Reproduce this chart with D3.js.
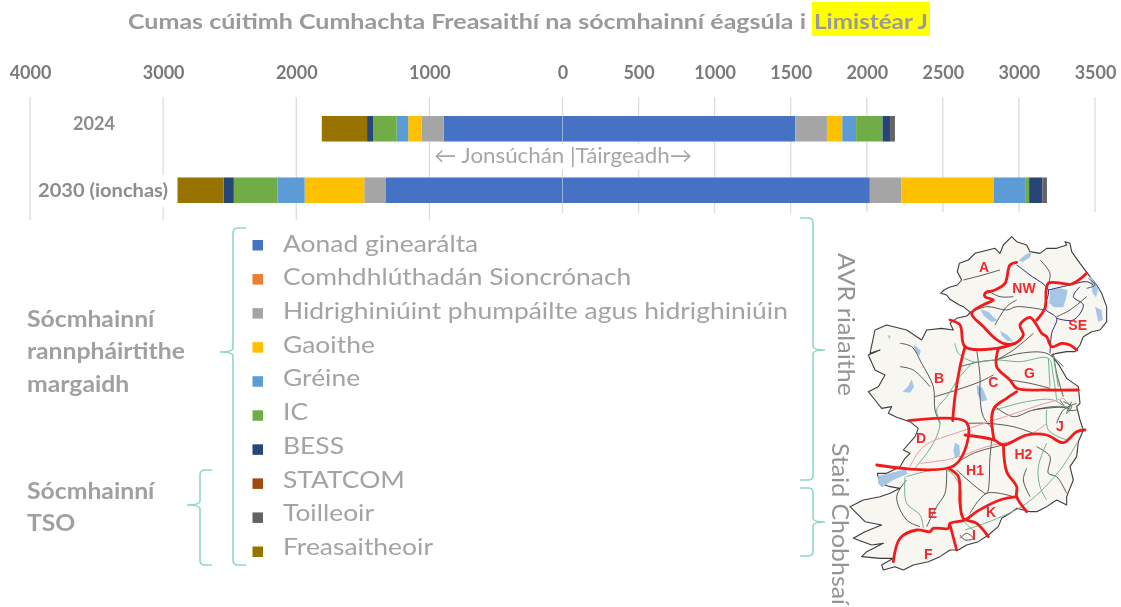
<!DOCTYPE html>
<html><head><meta charset="utf-8">
<script src="https://cdn.jsdelivr.net/npm/d3@7"></script>
<style>html,body{margin:0;padding:0;background:#fff}svg{display:block}text{font-family:Lato,"Open Sans",sans-serif}</style>
</head><body><svg id="c" width="1121" height="607"></svg>
<script>
const titleMain = "Cumas cúitimh Cumhachta Freasaithí na sócmhainní éagsúla i";
const titleHighlight = "Limistéar J";
const years = ["2024", "2030 (ionchas)"];
const seriesNames = ["Aonad ginearálta","Comhdhlúthadán Sioncrónach","Hidrighiniúint phumpáilte agus hidrighiniúin","Gaoithe","Gréine","IC","BESS","STATCOM","Toilleoir","Freasaitheoir"];
const seriesColors = ["#4472c4","#ed7d31","#a5a5a5","#ffc000","#5b9bd5","#70ad47","#264478","#9e480e","#636363","#997300"];
// values per series: [2024, 2030]
const productionValues = [[1530,2020],[0,0],[208,206],[101,608],[91,207],[174,26],[49,87],[0,0],[32,30],[0,0]];
const absorptionValues = [[893,1326],[0,0],[164,163],[102,448],[86,204],[177,328],[46,77],[0,0],[0,0],[340,346]];
const leftTicks = [4000,3000,2000,1000];
const rightTicks = [0,500,1000,1500,2000,2500,3000,3500];
const groupMarket = ["Sócmhainní","rannpháirtithe","margaidh"];
const groupTso = ["Sócmhainní","TSO"];

// map illustration, in map-image units
const coast = [[450,340],[470,325],[500,318],[512,308],[490,290],[478,285],[450,268],[440,255],[422,250],[432,240],[448,232],[472,225],[485,210],[472,185],[478,160],[505,150],[525,130],[555,122],[585,115],[600,130],[610,105],[635,80],[650,95],[680,105],[690,125],[720,130],[740,115],[770,115],[800,105],[795,95],[810,100],[815,125],[840,160],[870,200],[890,225],[905,250],[920,290],[920,335],[900,360],[875,365],[850,380],[840,405],[825,425],[800,425],[770,430],[755,435],[780,470],[800,505],[835,530],[840,580],[830,590],[840,630],[850,660],[835,695],[830,740],[810,770],[820,810],[800,860],[800,885],[770,870],[740,890],[710,905],[690,905],[650,895],[630,910],[605,925],[595,950],[565,975],[535,995],[500,1005],[475,1020],[450,1020],[420,1040],[385,1055],[340,1065],[310,1080],[285,1070],[250,1080],[245,1065],[280,1045],[240,1045],[185,1040],[200,1025],[250,1000],[215,1005],[160,985],[195,965],[245,945],[195,935],[150,890],[190,870],[240,860],[270,850],[300,835],[270,830],[240,820],[232,790],[260,790],[300,770],[315,745],[330,730],[310,720],[345,680],[355,655],[330,635],[290,622],[265,610],[275,590],[245,595],[225,570],[205,545],[235,530],[255,495],[225,480],[205,435],[240,420],[210,430],[225,360],[260,345],[320,360],[365,390],[380,360],[425,355],[460,360]];
const lakes = [[[750,238],[780,235],[803,240],[798,265],[790,292],[762,292],[748,280]],[[655,152],[675,135],[695,125],[690,142],[670,155]],[[870,195],[895,235],[888,262],[878,250]],[[885,290],[905,300],[908,330],[895,335]],[[540,298],[565,305],[592,332],[575,336],[552,318]],[[600,362],[622,375],[640,395],[622,392],[606,378]],[[530,525],[548,535],[562,570],[545,575],[532,552]],[[335,508],[342,530],[330,548],[308,545],[325,528]],[[342,402],[362,422],[358,438],[345,425]],[[235,798],[285,785],[318,778],[322,792],[280,810],[245,832],[234,820]],[[465,698],[478,705],[480,735],[465,745],[460,722]],[[262,375],[272,378],[268,388]]];
const networkGrey = [[[300,400],[335,410],[365,460],[400,530],[405,600],[420,640]],[[405,560],[470,540],[540,515],[580,495]],[[480,470],[540,455],[590,450]],[[530,420],[540,500],[540,560],[550,620],[582,660]],[[590,450],[660,430],[740,430],[790,470]],[[630,510],[690,520],[750,535]],[[585,590],[640,620],[700,600],[800,590]],[[500,640],[560,640],[640,650],[700,670]],[[445,775],[520,730],[610,705]],[[440,780],[435,850],[410,890],[380,950]],[[470,780],[540,840],[560,850],[570,740],[575,690]],[[320,810],[290,860],[320,930],[360,950]],[[510,910],[560,850],[640,860]],[[710,710],[750,740],[745,790],[770,800],[800,850]],[[680,775],[670,810],[690,860]],[[505,310],[560,290],[620,300],[650,290],[735,300]],[[585,345],[620,290],[650,270]],[[560,240],[600,260],[640,260]],[[490,210],[530,200],[600,180]],[[720,150],[750,190],[745,222]],[[770,320],[810,300],[860,260]],[[590,450],[640,420],[700,370]],[[390,530],[340,480],[300,470]],[[760,430],[770,490],[790,560]],[[780,570],[805,600],[830,600]],[[700,600],[760,590],[810,595]],[[830,580],[790,600],[770,640]],[[480,985],[500,970],[520,985],[495,990],[480,975]],[[790,575],[815,590],[800,610],[815,575]],[[865,205],[885,225],[860,235]]];
const networkGreen = [[[465,400],[475,430],[520,455],[590,450],[660,455],[745,445],[760,500],[770,570]],[[520,455],[480,500],[440,560],[410,600],[420,640],[400,700],[340,780]],[[745,445],[750,530]],[[760,440],[775,530]],[[585,600],[680,575],[760,570],[805,600]],[[740,600],[745,660],[800,690]],[[315,800],[320,880],[360,915],[370,955]],[[320,800],[440,780],[480,830],[490,930],[520,960]],[[495,960],[580,930],[680,880],[780,780],[830,700]],[[740,700],[715,770],[720,830],[740,870]],[[790,565],[810,590],[800,610]]];
const networkPink = [[[330,770],[370,710],[480,665],[600,625],[720,585],[790,565]],[[360,760],[460,745],[560,710],[680,680],[740,640]]];
const networkNavy = [[[650,165],[690,195],[745,240],[735,295],[770,325],[755,370],[750,430]],[[745,240],[810,225],[860,215],[880,225]],[[770,325],[820,330],[850,285],[820,260],[840,230]]];
const regionLines = [[[650,157],[630,165],[615,220],[585,240],[555,250],[555,260],[580,270],[555,282],[515,310],[550,350],[585,385],[610,400],[645,400],[670,375],[660,345],[690,322],[710,345],[725,370],[740,380],[755,410],[785,400],[810,405],[830,420]],[[860,190],[815,222],[745,220],[735,295],[710,330]],[[450,330],[480,345],[495,410],[590,415],[645,400]],[[495,410],[480,470],[465,560],[458,632]],[[325,632],[500,638],[465,765],[230,765]],[[595,415],[590,470],[630,510],[650,535],[740,540],[835,540]],[[650,545],[620,565],[585,590],[575,620],[582,690]],[[495,675],[582,690],[610,705],[680,675],[740,675],[790,698],[830,665],[855,660]],[[610,705],[620,785],[650,830],[650,860],[680,905]],[[650,860],[600,870],[530,905],[495,930],[450,940],[445,955],[400,955],[390,965],[350,960],[300,985],[280,1055]],[[445,775],[475,800],[480,880],[490,925],[530,940],[565,980]],[[450,945],[470,1020]]];
const regionNames = ["A","NW","SE","B","C","G","J","D","H1","H2","E","K","I","F"];
const regionX = [552,672,833,417,580,688,780,363,525,670,397,573,522,385];
const regionY = [170,233,345,503,515,488,648,685,780,733,910,907,975,1033];

const svg = d3.select("#c");
svg.append("defs").append("filter").attr("id","soft").attr("x","-5%").attr("y","-5%").attr("width","110%").attr("height","110%")
  .append("feGaussianBlur").attr("stdDeviation",0.45);
const root = svg.append("g").attr("filter","url(#soft)");
root.append("rect").attr("width",1121).attr("height",607).attr("fill","#fff");

// scales: two independent value axes meeting at zero
const xLeft = d3.scaleLinear().domain([0,4000]).range([562.5,30]);
const xRight = d3.scaleLinear().domain([0,3500]).range([562.5,1095]);
const y = d3.scaleBand().domain(years).range([116,203]).paddingInner(0.585).paddingOuter(0);

// title
root.append("text").attr("x",128).attr("y",28.5).attr("font-size",21.5).attr("font-weight",700).attr("fill","#9a9a9a")
  .attr("textLength",678).attr("lengthAdjust","spacingAndGlyphs").text(titleMain);
root.append("rect").attr("x",812).attr("y",2).attr("width",118).attr("height",34).attr("fill","#ffff00");
root.append("text").attr("x",814).attr("y",28.5).attr("font-size",21.5).attr("font-weight",700).attr("fill","#9a9a9a")
  .attr("textLength",114).attr("lengthAdjust","spacingAndGlyphs").text(titleHighlight);

// gridlines
root.append("g").selectAll("line").data(leftTicks).join("line")
  .attr("x1",d=>xLeft(d)).attr("x2",d=>xLeft(d)).attr("y1",97).attr("y2",220).attr("stroke","#dcdcdc").attr("stroke-width",1.3);
root.append("g").selectAll("line").data(rightTicks).join("line")
  .attr("x1",d=>xRight(d)).attr("x2",d=>xRight(d)).attr("y1",97).attr("y2",213).attr("stroke","#dcdcdc").attr("stroke-width",1.3);

// axes
function styleAxis(g){ g.select(".domain").remove(); g.selectAll("line").remove();
  g.selectAll("text").attr("font-size",18).attr("font-weight",700).attr("fill","#7a7a7a").style("font-family","Lato,sans-serif"); }
root.append("g").attr("transform","translate(0,79)").call(d3.axisTop(xLeft).tickValues(leftTicks).tickFormat(d3.format("d")).tickSize(0).tickPadding(0)).call(styleAxis);
root.append("g").attr("transform","translate(0,79)").call(d3.axisTop(xRight).tickValues(rightTicks).tickFormat(d3.format("d")).tickSize(0).tickPadding(0)).call(styleAxis);

// category labels
root.append("rect").attr("x",36).attr("y",175).attr("width",135).attr("height",32).attr("fill","#fff");
root.append("g").selectAll("text").data(years).join("text")
  .attr("x",(d,i)=>[73,38][i]).attr("y",(d,i)=>y(d)+y.bandwidth()/2+[1.5,7][i])
  .attr("font-size",18).attr("font-weight",700).attr("fill","#8c8c8c")
  .attr("textLength",(d,i)=>[42,130][i]).attr("lengthAdjust","spacingAndGlyphs").text(d=>d);

// stacked bars
function rows(values){ return years.map((yr,i)=>{ const r={year:yr}; seriesNames.forEach((s,k)=>r[s]=values[k][i]); return r; }); }
const stack = d3.stack().keys(seriesNames);
function drawSide(values,scale){
  const g = root.append("g");
  g.selectAll("g").data(stack(rows(values))).join("g").attr("fill",(d,i)=>seriesColors[i])
    .selectAll("rect").data(d=>d).join("rect")
    .attr("x",d=>Math.min(scale(d[0]),scale(d[1])))
    .attr("width",d=>Math.abs(scale(d[1])-scale(d[0])))
    .attr("y",d=>y(d.data.year)).attr("height",y.bandwidth());
}
drawSide(productionValues,xRight);
drawSide(absorptionValues,xLeft);
root.append("line").attr("x1",xRight(0)).attr("x2",xRight(0)).attr("y1",97).attr("y2",213).attr("stroke","#dcdcdc").attr("stroke-opacity",0.45).attr("stroke-width",1);

// direction annotation
root.append("rect").attr("x",432).attr("y",144).attr("width",262).attr("height",26).attr("fill","#fff");
root.append("text").attr("x",434).attr("y",163).attr("font-size",21).attr("fill","#a6a6a6")
  .attr("textLength",258).attr("lengthAdjust","spacingAndGlyphs").text("← Jonsúchán |Táirgeadh→");

// legend: swatches and labels sit on slightly different spacings
const legendY = d3.scalePoint().domain(seriesNames).range([245.5,552]);
const legendTextY = d3.scalePoint().domain(seriesNames).range([251.5,555]);
const legend = root.append("g").selectAll("g").data(seriesNames).join("g");
legend.append("rect").attr("x",252.5).attr("y",d=>legendY(d)-5.5).attr("width",10.5).attr("height",10.5).attr("fill",(d,i)=>seriesColors[i]);
legend.append("text").attr("transform",d=>`translate(283,${legendTextY(d)}) scale(1.125,1)`).attr("font-size",23.5).attr("fill","#a3a3a3").text(d=>d);

// group labels
root.append("g").selectAll("text").data(groupMarket).join("text").attr("transform",(d,i)=>`translate(27,${327+32.3*i}) scale(1.1,1)`)
  .attr("font-size",22.5).attr("font-weight",700).attr("fill","#a0a0a0").text(d=>d);
root.append("g").selectAll("text").data(groupTso).join("text").attr("transform",(d,i)=>`translate(27,${499+32.3*i}) scale(1.1,1)`)
  .attr("font-size",22.5).attr("font-weight",700).attr("fill","#a0a0a0").text(d=>d);

// curly brackets
const teal = "#8ed8ca";
function bracket(xv,top,bot,mid,dir,len,nib){
  const c=dir*5;
  const p=`M${xv+dir*len},${top} L${xv+c},${top} Q${xv},${top} ${xv},${top+5} L${xv},${mid-4} Q${xv},${mid} ${xv-dir*nib},${mid} Q${xv},${mid} ${xv},${mid+4} L${xv},${bot-5} Q${xv},${bot} ${xv+c},${bot} L${xv+dir*len},${bot}`;
  root.append("path").attr("d",p).attr("fill","none").attr("stroke",teal).attr("stroke-width",1.6);
}
bracket(233,228,565,352,1,13,13);
bracket(200,470,565,505,1,12,13);
bracket(813,218,480,350,-1,13,12);
bracket(813,488,556,522,-1,13,12);

// map
root.append("rect").attr("x",842).attr("y",212).attr("width",279).attr("height",395).attr("fill","#fff");
const mx = d3.scaleLinear().domain([0,960]).range([800,1120]);
const my = d3.scaleLinear().domain([0,1191]).range([210,607]);
const mapLine = d3.line().x(d=>mx(d[0])).y(d=>my(d[1]));
const curved = d3.line().x(d=>mx(d[0])).y(d=>my(d[1])).curve(d3.curveCatmullRom.alpha(0.5));
root.append("path").attr("d",mapLine(coast)+"Z").attr("fill","#f8f6f1").attr("stroke","#3c3c3c").attr("stroke-width",1.1).attr("stroke-linejoin","round");
root.append("g").selectAll("path").data(lakes).join("path").attr("d",d=>mapLine(d)+"Z").attr("fill","#a5c6e4");
function net(data,color,w,op){ root.append("g").selectAll("path").data(data).join("path").attr("d",curved).attr("fill","none").attr("stroke",color).attr("stroke-width",w).attr("stroke-opacity",op); }
net(networkGrey,"#4f4f4f",1,0.95);
net(networkGreen,"#6db48c",1,1);
net(networkPink,"#ef9a9a",1,1);
net(networkNavy,"#2e2f7a",1,1);
root.append("g").selectAll("path").data(regionLines).join("path").attr("d",curved).attr("fill","none").attr("stroke","#f01a1f").attr("stroke-width",2.8).attr("stroke-linejoin","round").attr("stroke-linecap","round");
root.append("g").selectAll("text").data(regionNames).join("text").attr("x",(d,i)=>mx(regionX[i])).attr("y",(d,i)=>my(regionY[i])+5)
  .attr("text-anchor","middle").attr("font-size",14).attr("font-weight",700).attr("fill","#ee2a2e").style("font-family","'Liberation Sans',sans-serif").text(d=>d);

// rotated side labels
root.append("text").attr("transform","translate(838,253) rotate(90)").attr("font-size",24).attr("fill","#949494")
  .attr("textLength",143).attr("lengthAdjust","spacingAndGlyphs").text("AVR rialaithe");
root.append("text").attr("transform","translate(832,443) rotate(90)").attr("font-size",23).attr("fill","#949494")
  .attr("textLength",162).attr("lengthAdjust","spacingAndGlyphs").text("Staid Chobhsaí");
</script></body></html>
